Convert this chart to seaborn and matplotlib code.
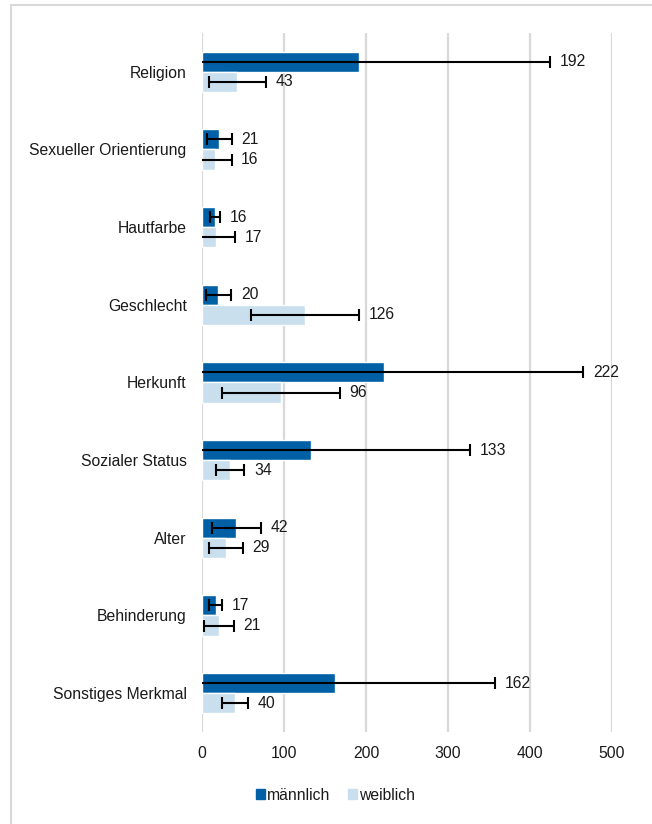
import seaborn as sns
import pandas as pd
import numpy as np
import matplotlib
matplotlib.use("Agg")
from matplotlib import pyplot as plt
from matplotlib.patches import Rectangle

# Daten
merkmale = ["Religion", "Sexueller Orientierung", "Hautfarbe", "Geschlecht", "Herkunft",
            "Sozialer Status", "Alter", "Behinderung", "Sonstiges Merkmal"]
maennlich = [192, 21, 16, 20, 222, 133, 42, 17, 162]
weiblich = [43, 16, 17, 126, 96, 34, 29, 21, 40]
fehler_m = [232, 15, 6.5, 15.5, 243, 194, 29.5, 8, 195]
fehler_w = [35, 20, 23, 66, 72, 17.5, 20.5, 18, 16]
gruppen = ["männlich", "weiblich"]
farben = ["#0060A6", "#C9DFEE"]
x_ticks = [0, 100, 200, 300, 400, 500]

df = pd.DataFrame({
    "Merkmal": merkmale * 2,
    "Wert": maennlich + weiblich,
    "Geschlecht": [gruppen[0]] * len(merkmale) + [gruppen[1]] * len(merkmale),
})

sns.set_style("white")
plt.rcParams["font.family"] = ["Liberation Sans", "DejaVu Sans"]
plt.rcParams["font.size"] = 11.3
plt.rcParams["text.color"] = "#1a1a1a"

fig = plt.figure(figsize=(6.52, 8.24), dpi=100)
ax = fig.add_axes([0.3098, 0.1117, 0.6289, 0.8483])

sns.barplot(data=df, x="Wert", y="Merkmal", hue="Geschlecht", orient="h",
            palette=farben, width=0.52, errorbar=None, saturation=1,
            order=merkmale, hue_order=gruppen, ax=ax, zorder=2)

# Fehlerbalken und Beschriftungen an den Balken
for cont, fehler in zip(ax.containers, [fehler_m, fehler_w]):
    for bar, err in zip(cont, fehler):
        wert = bar.get_width()
        yc = bar.get_y() + bar.get_height() / 2
        ax.errorbar(wert, yc, xerr=err, fmt="none", ecolor="black",
                    elinewidth=1.5, capsize=4, capthick=1.5, zorder=3)
        ax.annotate(f"{wert:.0f}", xy=(wert + err, yc), xytext=(7, 0),
                    textcoords="offset points", va="center", ha="left",
                    fontsize=11.3, annotation_clip=False)

ax.set_xlim(0, 500)
ax.set_ylim(8.5, -0.5)
ax.set_xticks(x_ticks)
ax.xaxis.grid(True, color="#D9D9D9", linewidth=1.6, zorder=0)
ax.set_axisbelow(True)
ax.yaxis.grid(False)
ax.set_xlabel("")
ax.set_ylabel("")
ax.tick_params(axis="both", length=0, labelsize=11.3, labelcolor="#1a1a1a")
ax.tick_params(axis="x", pad=10)
ax.tick_params(axis="y", pad=11)
sns.despine(ax=ax, left=True, bottom=True)

ax.legend_.remove()
handles = [Rectangle((0, 0), 1, 1, color=c) for c in farben]
fig.legend(handles, gruppen, loc="center", bbox_to_anchor=(0.5146, 0.035), ncol=2,
           frameon=False, handlelength=0.58, handleheight=0.58, handletextpad=0.15,
           columnspacing=1.1, fontsize=11.3)

# Rahmen (oben und links sichtbar)
fig.add_artist(Rectangle((11 / 652, -0.1), 1.2, 1 - 5 / 824 + 0.1, transform=fig.transFigure,
                         fill=False, edgecolor="#D9D9D9", linewidth=1.5))

fig.savefig("out.png", dpi=100)
